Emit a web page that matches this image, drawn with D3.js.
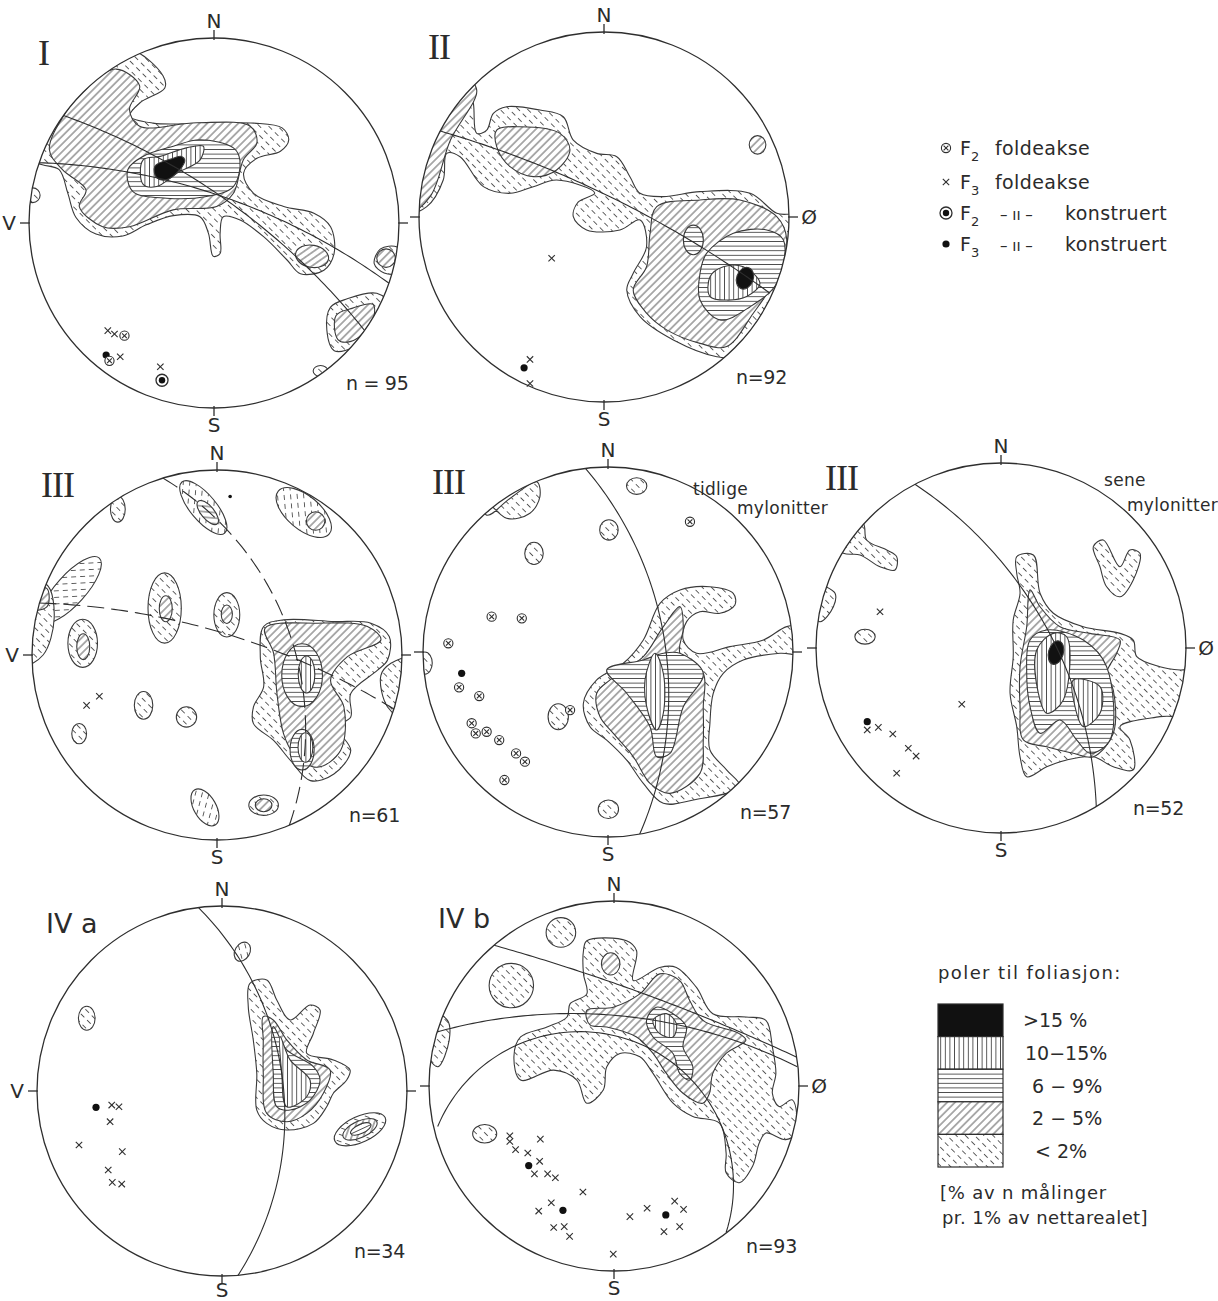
<!DOCTYPE html>
<html lang="no">
<head>
<meta charset="utf-8">
<title>Stereonett I - IV</title>
<script src="https://d3js.org/d3.v7.min.js"></script>
<style>
  body { margin: 0; background: #fff; }
  svg text { fill: #2b2b2b; }
</style>
</head>
<body>
<div id="fig"></div>
<script>
// ---------- data (net coordinates: -100..100, x = east, y = north) ----------
const netNames = ["I", "II", "III", "III", "III", "IV a", "IV b"];
const netCounts = ["n = 95", "n=92", "n=61", "n=57", "n=52", "n=34", "n=93"];
const westLabels = ["V", "", "V", "", "", "V", ""];
const eastLabels = ["", "Ø", "", "", "Ø", "", "Ø"];

const levelLabels = [">15 %", "10\u221215%", "6 \u2212 9%", "2 \u2212 5%", "< 2%"];
const legendSymbols = ["ox", "x", "od", "d"];
const legendSubs = ["2", "3", "2", "3"];
const legendWords = ["foldeakse", "foldeakse", "konstruert", "konstruert"];

const regionsI = [
  {lv: 0, p: [[-105,36],[-80,85],[-46,94],[-27.5,79.5],[-26.6,73],[-40,65],[-45.6,57.8],[-33,54],[-7.6,53.8],[21.4,54],[36.8,51.4],[40.4,45],[35.9,38.8],[23.2,35],[16,27],[21.4,16],[37.7,8.9],[54,5.3],[63,-2],[64.9,-16.5],[59.4,-25.5],[46.7,-27.4],[39.5,-20],[26.8,-7.4],[14.1,1.6],[5,3.4],[3.3,-5.6],[3.3,-16.5],[-0.4,-18],[-3,-5.6],[-7.6,3.4],[-22,4],[-36.6,-1],[-49.3,-7],[-63.8,-6],[-74.6,3],[-79,16],[-83.7,28.8],[-92.8,31.5]]},
  {lv: 0, p: [[86.6,-22],[90,-14],[99,-13],[104,-20],[100,-27],[92,-27]]},
  {lv: 0, p: [[63,-45.5],[72,-41],[88,-38],[96,-45],[90,-55],[75.7,-67],[65,-69],[61,-58]]},
  {lv: 0, e: [57.6,-80,4,3,0]},
  {lv: 0, e: [-98,15,4,4,0]},
  {lv: 1, p: [[-89,39.7],[-80,60],[-68,74],[-52.9,83.2],[-40.2,74.1],[-45.7,61.4],[-40.2,52.3],[-9.4,54.2],[19.6,52.3],[23.2,43.3],[15.9,34.2],[10.5,16.1],[1.4,8.9],[-22.1,7.1],[-45.7,-2],[-60.2,-2],[-72.8,8.9],[-69.2,17.9],[-81.9,28.8]]},
  {lv: 1, e: [53,-18,9,6,-10]},
  {lv: 1, e: [93,-19,5,5,0]},
  {lv: 1, p: [[66,-50],[75,-46],[86,-44],[85,-55],[74,-64],[67,-63]]},
  {lv: 2, p: [[-46.6,28.8],[-38.4,36],[-22,41.5],[-7.6,45],[10.5,40.6],[14,34],[10.5,19.7],[-4,14.3],[-25.7,13.4],[-43.8,17]]},
  {lv: 3, p: [[-38.4,34],[-29,36],[-15,40.6],[-5.8,41.5],[-7.6,34],[-20,27],[-31,19.7],[-38.4,21]]},
  {lv: 4, p: [[-32,30.6],[-22,35],[-17.6,36],[-15.8,34],[-18.5,28.8],[-25.7,23.4],[-31,24.5]]}
];
const planesI = [
  {p: [[-81.4,58.1],[8.1,11.4],[81.4,-58.1]]},
  {p: [[-94.6,32.6],[4.9,14.2],[94.6,-32.6]]}
];
const symbolsI = [["x",-57.4,-58.2],["x",-53.8,-60],["ox",-48.4,-60.9],["d",-58.3,-71.4],["ox",-56.5,-74.5],["x",-50.7,-72.3],["x",-29,-77.7],["od",-28.1,-85]];

const regionsII = [
  {lv: 0, p: [[-74.2,77.7],[-106.6,2],[-95.8,5.6],[-86.9,20],[-85,34.4],[-77.8,32.6],[-65.2,16.4],[-50.8,12.8],[-38.2,16.4],[-25.6,20],[-5,13],[-14,8],[-16.6,0.2],[-9.4,-7],[8.6,-7],[19.5,-1.6],[23,-16],[15.8,-30.4],[12.3,-39.5],[19.5,-53.9],[37.5,-66.5],[61,-75.5],[80,-75],[106,-27],[104,0.2],[93.4,2],[79,12.8],[51.9,13.7],[32,11],[19.5,12.8],[14,21.8],[6.9,32.6],[-3.9,34.4],[-16.6,41.6],[-22,54.2],[-34.6,57.8],[-52.6,59.6],[-59.8,56],[-63.4,47],[-68.8,45.2],[-70.6,61.4]]},
  {lv: 1, p: [[-58,47],[-45.4,48.8],[-23.8,45.2],[-18.4,36.2],[-25.6,25.4],[-38.2,21.8],[-50.8,27.2],[-58,38]]},
  {lv: 1, p: [[-106,2],[-94,11],[-83,41.6],[-68.8,68.6],[-76,76],[-110,40]]},
  {lv: 1, p: [[28.5,5.6],[51.9,9.2],[73.5,9.2],[93.4,0.2],[98.8,-12.4],[93.4,-32.3],[80.7,-52],[66.3,-70],[51.9,-68.3],[33.9,-61],[23,-52],[15.8,-39.5],[23,-26.9],[24.9,-8.8]]},
  {lv: 1, e: [83,39,4.5,5,0]},
  {lv: 2, p: [[55.5,-19.6],[69.9,-8.8],[88,-7],[97,-12.4],[93.4,-35.8],[79,-48.5],[62.7,-55.7],[51.9,-44.9],[51.9,-30.4]]},
  {lv: 2, e: [48.3,-12.4,5.4,8,0]},
  {lv: 3, p: [[57.3,-32.3],[64.5,-26.9],[75.3,-26.9],[84.3,-35.8],[77.1,-43],[66.3,-44.9],[57.3,-43]]},
  {lv: 4, e: [76.2,-33.1,4.5,6,-20]}
];
const planesII = [{p: [[-90.4,47],[3.2,11],[89.7,-41.2]]}];
const symbolsII = [["x",-28.3,-22.3],["x",-40,-77],["d",-43.2,-81.5],["x",-40,-90]];

const regionsIIIa = [
  {lv: 0, e: [-53.6,78.8,4,7,0]},
  {lv: 0, e: [-7.4,79.7,18,7,-50]},
  {lv: 0, e: [46.9,77,18,9,-40]},
  {lv: 0, e: [-79,35.3,23,8,48]},
  {lv: 0, p: [[-104,38],[-92,38],[-88,20],[-94,0],[-104,-5]]},
  {lv: 0, e: [-28.3,25.4,9,19,0]},
  {lv: 0, e: [5.3,21.7,7,12,0]},
  {lv: 0, e: [-72.6,6.3,8,13,0]},
  {lv: 0, e: [-39.7,-27.2,5,7.5,0]},
  {lv: 0, e: [-16.5,-33.5,5.5,5.5,0]},
  {lv: 0, e: [-74.5,-42.5,4,5.5,0]},
  {lv: 0, e: [-6.5,-82.4,11,6,-60]},
  {lv: 0, e: [25.2,-81.2,8,5.5,0]},
  {lv: 0, p: [[25.2,15.4],[36,19],[63.2,18.1],[83.2,17.2],[93.1,10],[92.2,-2.7],[86.8,-8.2],[72.3,-20.8],[72.3,-33.5],[65,-39],[72.3,-51.6],[63.2,-64.3],[50.5,-67.9],[39.7,-57],[30.6,-46.2],[19.7,-37.1],[19.7,-28.1],[25.2,-17.2],[23.4,-0.9]]},
  {lv: 0, p: [[94,-4.5],[104,-2],[104,-36],[92.2,-28.1],[88.6,-11]]},
  {lv: 1, e: [-5,77,8,3.5,-50]},
  {lv: 1, e: [53.3,72.4,5,5,0]},
  {lv: 1, p: [[-104,34],[-92,36],[-92,26],[-104,25]]},
  {lv: 1, e: [-27.7,25,3.5,7,0]},
  {lv: 1, e: [5.3,22,3,5,0]},
  {lv: 1, e: [-72.3,4.5,3.5,7,0]},
  {lv: 1, e: [25.2,-81.2,4.5,3.5,0]},
  {lv: 1, p: [[26,14.5],[54.2,17.2],[81.3,15.4],[88.6,8.2],[70.5,-0.9],[61.4,-13.6],[68.6,-28.1],[66.8,-51.6],[54.2,-60.7],[41.5,-53.4],[36,-42.6],[32.4,-20.8],[30.6,0.9]]},
  {lv: 2, e: [46,-10.9,11,17,0]},
  {lv: 2, e: [46,-51.2,6.5,11,0]},
  {lv: 3, e: [48.4,-10.5,4.5,10,0]},
  {lv: 3, e: [47.8,-50,4,8,0]}
];
const planesIIIa = [
  {p: [[-29.2,95.6],[41.5,4.5],[39.1,-92]], dash: true},
  {p: [[-96,28.1],[3,12],[95.6,-29.2]], dash: true}
];
const symbolsIIIa = [["x",-70.5,-27.2],["x",-63.6,-22.3],["s",7.1,85.7]];

const regionsIIIb = [
  {lv: 0, p: [[-65.6,74],[-53,83],[-38.5,92],[-36.8,84],[-42.2,75],[-54.8,72.3],[-71,87.6]]},
  {lv: 0, e: [15.5,89.7,5.5,4.5,0]},
  {lv: 0, e: [0.5,66,5,5.5,0]},
  {lv: 0, e: [-40,53.3,5,6,0]},
  {lv: 0, e: [-26.9,-35,5.5,7,0]},
  {lv: 0, e: [0.2,-85,5.5,5,0]},
  {lv: 0, e: [-99,-6,4,6,0]},
  {lv: 0, p: [[-13.3,-27.7],[-6.1,-15.1],[8.3,-6.1],[19.1,6.5],[28.1,26.3],[38.9,33.5],[55.1,35.3],[67.7,31.7],[68.6,25.4],[60.5,20.9],[49.7,21.8],[42.5,16.4],[40.7,6.5],[47.9,-0.7],[65.9,2.9],[84,6.5],[96.6,13.7],[105.6,13.7],[105.6,-0.7],[93,-0.7],[73.1,-4.3],[62.3,-11.5],[56.9,-22.3],[55.1,-38.5],[55.1,-53],[64.2,-63.8],[71.4,-72.8],[46.1,-80],[29.9,-81.8],[19.1,-71],[10.1,-58.4],[-0.7,-47.6],[-9.7,-40.4]]},
  {lv: 1, p: [[-6.1,-22.3],[1.1,-15.1],[19.1,-2.5],[29.9,13.7],[38.9,24.5],[40.7,13],[38.9,-0.7],[51.5,-11.5],[51.5,-29.6],[51.5,-47.6],[49.7,-65.6],[33.5,-76.4],[22.7,-71],[13.7,-56.6],[2.9,-44],[-4.3,-35]]},
  {lv: 2, p: [[-0.7,-9.7],[19.1,-4.3],[29.9,-0.7],[38.9,-0.7],[51.5,-11.5],[40.7,-29.6],[33.5,-54.8],[26.3,-56.6],[22.7,-40.4],[10.1,-22.3]]},
  {lv: 3, p: [[20,-15.1],[25.4,-0.7],[29.9,-11.5],[29.9,-33.1],[26.3,-42.2],[21.8,-33.1]]}
];
const planesIIIb = [{p: [[-12.2,99.3],[29.9,10.1],[17.1,-98.5]]}];
const symbolsIIIb = [["ox",-62.9,19.1],["ox",-46.6,18.2],["ox",-86.3,4.7],["d",-79.1,-11.5],["ox",-80.5,-19.1],["ox",-69.6,-23.8],["ox",-73.7,-38.5],["ox",-71.5,-44],["ox",-65.6,-43.1],["ox",-58.8,-47.6],["ox",-49.7,-54.8],["ox",-44.9,-59.3],["ox",-56,-69.2],["ox",-20.5,-31.4],["ox",44.3,70.4]];

const regionsIIIc = [
  {lv: 0, p: [[-74.4,67.4],[-72.6,58.4],[-61.8,53],[-56.4,49.4],[-57.3,42.2],[-65.4,43.9],[-76.2,50.3],[-85.2,51.2],[-95,60],[-85,75]]},
  {lv: 0, p: [[-104,40],[-97.8,35],[-89.7,29.6],[-90.6,22.3],[-97.8,14.2],[-104,20]]},
  {lv: 0, e: [-73.5,6.1,5.5,4,0]},
  {lv: 0, p: [[49.9,54.8],[55.3,58.4],[64.3,43.9],[69.7,53],[75.1,51.2],[71.5,36.8],[64.3,27.7],[57.1,33.1],[53.5,43.9]]},
  {lv: 0, p: [[8.5,49.4],[17.5,50.3],[21.1,29.6],[28.3,18.8],[44.5,11.5],[64.3,7.9],[71.5,4.3],[73.4,-4.7],[85.9,-10.1],[96.8,-11.9],[107.6,-12],[107.6,-35.3],[85.9,-37.1],[64.3,-42.5],[69.7,-49.7],[71.5,-65.9],[60.7,-64.2],[49.9,-58.8],[35.5,-60.5],[24.7,-64.2],[13.9,-69.6],[10.3,-58.8],[8.5,-42.5],[4.9,-24.5],[6.6,-4.7],[6.6,15.1],[10.3,29.6],[8.5,40.4]]},
  {lv: 1, p: [[15.7,31.4],[21.1,22.3],[31.9,11.5],[48.1,7.9],[64.3,4.3],[62.5,-2.9],[57.1,-13.7],[60.7,-22.7],[60.7,-46.1],[49.9,-58.8],[39.1,-56.9],[24.7,-53.4],[12.1,-49.7],[10.3,-31.7],[10.3,-10.1],[13.9,11.5]]},
  {lv: 2, p: [[15.7,4.3],[24.7,9.7],[44.5,4.3],[57.1,-10.1],[58.9,-49.7],[48.1,-56.9],[40.9,-49.7],[31.9,-38.9],[21.1,-46.1],[15.7,-31.7],[13.9,-13.7]]},
  {lv: 3, p: [[19.3,-1.1],[28.3,7.9],[35.5,6.1],[33.7,-28.1],[24.7,-35.3],[20.2,-24.5]]},
  {lv: 3, p: [[39.1,-17.3],[53.5,-20.9],[53.5,-35.3],[44.5,-42.5],[40,-31.7]]},
  {lv: 4, e: [29.7,-2.5,4,6.5,-15]}
];
const planesIIIc = [{p: [[-46.5,88.5],[23.5,13],[51.5,-85.7]]}];
const symbolsIIIc = [["x",-65.4,19.6],["x",-21.2,-30.4],["d",-72.3,-39.8],["x",-72.3,-44.3],["x",-66.3,-42.9],["x",-58.5,-46.5],["x",-50.1,-54.2],["x",-45.9,-58.4],["x",-56.4,-67.7]];

const regionsIVa = [
  {lv: 0, e: [-73.1,39.3,4.5,6.5,0]},
  {lv: 0, e: [11,75.3,4,5.5,-30]},
  {lv: 0, p: [[15.1,58.2],[24.2,60],[29.6,49.2],[36.8,38.4],[47.6,46.5],[53,43.8],[49.4,31.2],[45.8,20.4],[60.2,16.8],[69.2,11.4],[67.4,5.9],[60.2,-1.2],[56.6,-8.5],[49.4,-17.5],[35,-21.1],[24.2,-17.5],[18.8,-10.3],[18.8,9.6],[16.9,27.6],[14.2,45.6]]},
  {lv: 0, e: [74.6,-20.7,15,7,25]},
  {lv: 1, p: [[22.3,40.2],[27.7,38.4],[35,27.6],[45.8,16.8],[58.4,11.4],[54.8,-1.2],[45.8,-12.1],[35,-16.6],[24.2,-12.1],[22.3,9.6],[22.3,27.6]]},
  {lv: 1, e: [74.6,-20.7,10,4.5,25]},
  {lv: 2, p: [[27.7,34.8],[35,22.2],[49.4,13.2],[53,5.9],[47.6,-4.9],[36.8,-10.3],[29.6,-8.5],[27.7,9.6]]},
  {lv: 2, e: [75,-20.5,6,2.5,25]},
  {lv: 3, p: [[31.4,29.4],[36.8,16.8],[47.6,5.9],[45.8,-3.1],[35,-8.5],[32.3,9.6]]}
];
const planesIVa = [{p: [[-12.8,99.2],[33,4],[8.7,-99.6]]}];
const symbolsIVa = [["d",-68.1,-8.8],["x",-59.6,-7.6],["x",-55.7,-8.5],["x",-60.5,-16.6],["x",-77.3,-29.2],["x",-53.9,-32.8],["x",-61.5,-42.7],["x",-59.3,-49.4],["x",-54.2,-50.3]];

const regionsIVb = [
  {lv: 0, e: [-28.7,83,8,8,0]},
  {lv: 0, e: [-55.5,54.3,12,12,0]},
  {lv: 0, p: [[-97.1,39.1],[-90,35.5],[-89.1,24.7],[-95.3,10.4],[-104,24.7]]},
  {lv: 0, e: [-69.9,-25.8,6.5,5,0]},
  {lv: 0, p: [[-14.7,78.5],[6.8,78.5],[12.2,73.1],[10.4,57],[24.7,64.1],[33.7,64.1],[44.5,53.4],[53.4,39.1],[71.3,37.3],[82.1,35.5],[85.6,21.1],[87.5,6.8],[85.6,-3.9],[89.2,-11.1],[96.4,-7.5],[98.2,-25.4],[92.8,-29],[82.1,-25.4],[78.5,-30.8],[74.9,-43.4],[67.7,-52.3],[60.6,-46.9],[60.6,-36.2],[57,-20.1],[42.6,-16.5],[31.9,-9.3],[21.1,6.8],[14,15.8],[3.2,17.6],[-3.9,10.4],[-5.8,-2.2],[-14.7,-9.3],[-20.1,3.2],[-32.6,8.6],[-50.5,3.2],[-54.1,15.8],[-50.5,26.5],[-36.2,31.9],[-25.4,37.3],[-23.7,44.5],[-14.7,49.8],[-16.5,60.6],[-16.5,73.1]]},
  {lv: 1, e: [-1.8,66,5,6,0]},
  {lv: 1, p: [[-14.7,40.9],[-0.4,42.6],[14,49.8],[24.7,60.6],[35.5,57],[40.9,46.2],[48,35.5],[67.7,28.3],[71.3,24.7],[60.6,17.6],[53.4,6.8],[51.6,-3.9],[48,-9.3],[37.3,-3.9],[28.3,6.8],[21.1,17.6],[12.2,26.5],[-3.9,31.9],[-13,33]]},
  {lv: 2, p: [[17.6,35.5],[22.9,42.6],[31.9,39.1],[39.1,31.9],[37.3,21.1],[42.6,10.4],[40.9,3.2],[35.5,6.8],[31.9,17.6],[21.1,26.5]]},
  {lv: 3, p: [[21.1,35.5],[28.3,39.1],[33.7,33.7],[31.9,26.5],[24.7,28.3]]}
];
const planesIVb = [
  {p: [[-64.9,76.1],[-3.9,57],[98.8,15.6]]},
  {p: [[-95.7,29.2],[-29,39.1],[99.1,10.4]]},
  {p: [[-95.3,-21.9],[3.2,26.5],[60.6,-79.2]]}
];
const symbolsIVb = [["x",-56.3,-26.9],["x",-56.3,-30],["x",-53.2,-34.4],["x",-46.6,-36.2],["x",-39.8,-28.7],["x",-40.2,-40.7],["d",-46.1,-43],["x",-43,-47.5],["x",-35.9,-47.5],["x",-31.7,-49.6],["x",-16.8,-57.3],["x",-33.9,-63.1],["x",-40.7,-67.6],["d",-27.6,-67.2],["x",-32.6,-76.5],["x",-26.9,-76],["x",-24,-81.3],["x",-0.4,-90.9],["x",8.6,-70.6],["x",17.9,-66.1],["d",28,-69.7],["x",32.8,-62.2],["x",37.6,-66.7],["x",27,-78.7],["x",35.5,-76]];

// ---------- layout ----------
const W = 1218, H = 1301, R = 185;
const panelPos = [[214,223],[604,217],[217,655],[608,652],[1001,648],[222,1091],[614,1086]];
const ink = "#2e2e2e";
const sans = "'DejaVu Sans', sans-serif";
const serif = "'Liberation Serif', 'DejaVu Serif', serif";

const svg = d3.select("#fig").append("svg").attr("width", W).attr("height", H)
  .style("font-family", sans);
svg.append("rect").attr("width", W).attr("height", H).attr("fill", "#fff");
const defs = svg.append("defs");

// hatch patterns for the density levels
function addHatch(id, angle, gap, dash, period) {
  const h = dash ? period : gap;
  const p = defs.append("pattern").attr("id", id)
    .attr("patternUnits", "userSpaceOnUse")
    .attr("width", gap).attr("height", h)
    .attr("patternTransform", `rotate(${angle})`);
  p.append("line")
    .attr("x1", gap / 2).attr("x2", gap / 2)
    .attr("y1", 0).attr("y2", dash ? dash : h)
    .attr("stroke", "#4a4a4a").attr("stroke-width", 0.9);
}
addHatch("lv0", -45, 6.5, 5, 9);
addHatch("lv1", 45, 5.5);
addHatch("lv2", 90, 4.6);
addHatch("lv3", 0, 4.6);

function arcThrough(p1, p2, p3, n = 80) {
  const [ax, ay] = p1, [bx, by] = p2, [cx, cy] = p3;
  const d = 2 * (ax * (by - cy) + bx * (cy - ay) + cx * (ay - by));
  if (Math.abs(d) < 1e-9) return [p1, p3];
  const a2 = ax * ax + ay * ay, b2 = bx * bx + by * by, c2 = cx * cx + cy * cy;
  const ux = (a2 * (by - cy) + b2 * (cy - ay) + c2 * (ay - by)) / d;
  const uy = (a2 * (cx - bx) + b2 * (ax - cx) + c2 * (bx - ax)) / d;
  const r = Math.hypot(ax - ux, ay - uy);
  const TAU = 2 * Math.PI;
  const norm = a => ((a % TAU) + TAU) % TAU;
  const t1 = Math.atan2(ay - uy, ax - ux);
  const d12 = norm(Math.atan2(by - uy, bx - ux) - t1);
  const d13 = norm(Math.atan2(cy - uy, cx - ux) - t1);
  const sweep = d12 <= d13 ? d13 : d13 - TAU;
  return d3.range(n + 1).map(k => [ux + r * Math.cos(t1 + sweep * k / n), uy + r * Math.sin(t1 + sweep * k / n)]);
}

function drawSymbol(g, kind, px, py) {
  const line = (x1, y1, x2, y2) => g.append("line").attr("x1", x1).attr("y1", y1).attr("x2", x2).attr("y2", y2)
    .attr("stroke", ink).attr("stroke-width", 1.1);
  if (kind === "x") {
    line(px - 3.2, py - 3.2, px + 3.2, py + 3.2); line(px - 3.2, py + 3.2, px + 3.2, py - 3.2);
  } else if (kind === "ox") {
    g.append("circle").attr("cx", px).attr("cy", py).attr("r", 4.6).attr("fill", "#fff").attr("stroke", ink).attr("stroke-width", 1.1);
    line(px - 2.4, py - 2.4, px + 2.4, py + 2.4); line(px - 2.4, py + 2.4, px + 2.4, py - 2.4);
  } else if (kind === "od") {
    g.append("circle").attr("cx", px).attr("cy", py).attr("r", 6).attr("fill", "#fff").attr("stroke", ink).attr("stroke-width", 1.3);
    g.append("circle").attr("cx", px).attr("cy", py).attr("r", 3.2).attr("fill", "#111");
  } else if (kind === "d") {
    g.append("circle").attr("cx", px).attr("cy", py).attr("r", 3.6).attr("fill", "#111");
  } else {
    g.append("circle").attr("cx", px).attr("cy", py).attr("r", 1.8).attr("fill", "#111");
  }
}

function drawNet(k, regions, planes, symbols) {
  const [cx, cy] = panelPos[k];
  const x = d3.scaleLinear().domain([-100, 100]).range([cx - R, cx + R]);
  const y = d3.scaleLinear().domain([-100, 100]).range([cy + R, cy - R]);
  const s = R / 100;

  defs.append("clipPath").attr("id", "clip" + k)
    .append("circle").attr("cx", cx).attr("cy", cy).attr("r", R);

  const g = svg.append("g");
  const inner = g.append("g").attr("clip-path", `url(#clip${k})`);
  const blob = d3.line().curve(d3.curveCatmullRomClosed.alpha(0.5)).x(d => x(d[0])).y(d => y(d[1]));

  regions.slice().sort((a, b) => a.lv - b.lv).forEach(r => {
    const fills = r.lv === 4 ? ["#111"] : ["#fff", `url(#lv${r.lv})`];
    fills.forEach((f, i) => {
      let el;
      if (r.p) {
        el = inner.append("path").attr("d", blob(r.p));
      } else {
        const ex = x(r.e[0]), ey = y(r.e[1]);
        el = inner.append("ellipse").attr("cx", ex).attr("cy", ey)
          .attr("rx", r.e[2] * s).attr("ry", r.e[3] * s)
          .attr("transform", `rotate(${-r.e[4]},${ex},${ey})`);
      }
      el.attr("fill", f)
        .attr("stroke", i === fills.length - 1 ? "#3a3a3a" : "none")
        .attr("stroke-width", 1.1);
    });
  });

  const arcLine = d3.line().x(d => x(d[0])).y(d => y(d[1]));
  planes.forEach(pl => {
    inner.append("path").attr("d", arcLine(arcThrough(...pl.p)))
      .attr("fill", "none").attr("stroke", ink).attr("stroke-width", 1.1)
      .attr("stroke-dasharray", pl.dash ? "17,7" : null);
  });

  symbols.forEach(sy => drawSymbol(g, sy[0], x(sy[1]), y(sy[2])));

  // primitive circle with ticks
  g.append("circle").attr("cx", cx).attr("cy", cy).attr("r", R)
    .attr("fill", "none").attr("stroke", ink).attr("stroke-width", 1.3);
  const tick = (x1, y1, x2, y2) => g.append("line").attr("x1", x1).attr("y1", y1).attr("x2", x2).attr("y2", y2)
    .attr("stroke", ink).attr("stroke-width", 1.3);
  tick(cx, cy - R - 8, cx, cy - R + 2);
  tick(cx, cy + R - 2, cx, cy + R + 8);
  tick(cx - R - 9, cy, cx - R + 1, cy);
  tick(cx + R - 1, cy, cx + R + 9, cy);

  const lab = (tx, ty, t) => g.append("text").attr("x", tx).attr("y", ty)
    .attr("text-anchor", "middle").attr("dominant-baseline", "central")
    .attr("font-size", 20).text(t);
  lab(cx, cy - R - 17, "N");
  lab(cx, Math.min(cy + R + 17, H - 11), "S");
  if (westLabels[k]) lab(cx - R - 20, cy, westLabels[k]);
  if (eastLabels[k]) lab(cx + R + 20, cy, eastLabels[k]);

  // panel label and count
  const roman = !netNames[k].startsWith("IV");
  g.append("text").attr("x", cx - 176).attr("y", cy - 158)
    .style("font-family", roman ? serif : sans)
    .attr("font-size", roman ? 36 : 27)
    .attr("letter-spacing", roman ? -1 : 0)
    .text(netNames[k]);
  g.append("text").attr("x", cx + 132).attr("y", cy + 167)
    .attr("font-size", 19).attr("letter-spacing", -0.3).text(netCounts[k]);
}

drawNet(0, regionsI, planesI, symbolsI);
drawNet(1, regionsII, planesII, symbolsII);
drawNet(2, regionsIIIa, planesIIIa, symbolsIIIa);
drawNet(3, regionsIIIb, planesIIIb, symbolsIIIb);
drawNet(4, regionsIIIc, planesIIIc, symbolsIIIc);
drawNet(5, regionsIVa, planesIVa, symbolsIVa);
drawNet(6, regionsIVb, planesIVb, symbolsIVb);

// notes on the mylonite nets
const note = (tx, ty, t) => svg.append("text").attr("x", tx).attr("y", ty)
  .attr("font-size", 17).attr("letter-spacing", 0.3).text(t);
note(693, 495, "tidlige");
note(737, 514, "mylonitter");
note(1104, 486, "sene");
note(1127, 511, "mylonitter");

// ---------- symbol legend ----------
const legTop = svg.append("g");
const rowY = [148, 182, 213, 244];
legendSymbols.forEach((sym, i) => {
  drawSymbol(legTop, sym, 946, rowY[i]);
  const t = legTop.append("text").attr("x", 960).attr("y", rowY[i] + 7).attr("font-size", 19);
  t.append("tspan").text("F");
  t.append("tspan").attr("dy", 6).attr("font-size", 13).text(legendSubs[i]);
  if (i < 2) {
    t.append("tspan").attr("x", 995).attr("dy", -6).attr("letter-spacing", 0.4).text(legendWords[i]);
  } else {
    t.append("tspan").attr("x", 1000).attr("dy", -6).attr("font-size", 15).text("\u2013 \u0131\u0131 \u2013");
    t.append("tspan").attr("x", 1065).attr("letter-spacing", 0.4).text(legendWords[i]);
  }
});

// ---------- density legend ----------
const legB = svg.append("g");
legB.append("text").attr("x", 938).attr("y", 979).attr("font-size", 18).attr("letter-spacing", 1.4)
  .text("poler til foliasjon:");
const boxX = 938, boxW = 65, boxH = 32.6, boxY0 = 1004;
const boxFills = ["#111", "url(#lv3)", "url(#lv2)", "url(#lv1)", "url(#lv0)"];
const labelX = [1023, 1025, 1032, 1032, 1035];
levelLabels.forEach((t, i) => {
  const yy = boxY0 + i * boxH;
  legB.append("rect").attr("x", boxX).attr("y", yy).attr("width", boxW).attr("height", boxH)
    .attr("fill", "#fff");
  legB.append("rect").attr("x", boxX).attr("y", yy).attr("width", boxW).attr("height", boxH)
    .attr("fill", boxFills[i]).attr("stroke", ink).attr("stroke-width", 1.2);
  legB.append("text").attr("x", labelX[i]).attr("y", yy + boxH / 2 + 7).attr("font-size", 19).text(t);
});
legB.append("text").attr("x", 940).attr("y", 1199).attr("font-size", 18).attr("letter-spacing", 0.8)
  .text("[% av n m\u00e5linger");
legB.append("text").attr("x", 942).attr("y", 1224).attr("font-size", 18).attr("letter-spacing", 0.4)
  .text("pr. 1% av nettarealet]");
</script>
</body>
</html>
